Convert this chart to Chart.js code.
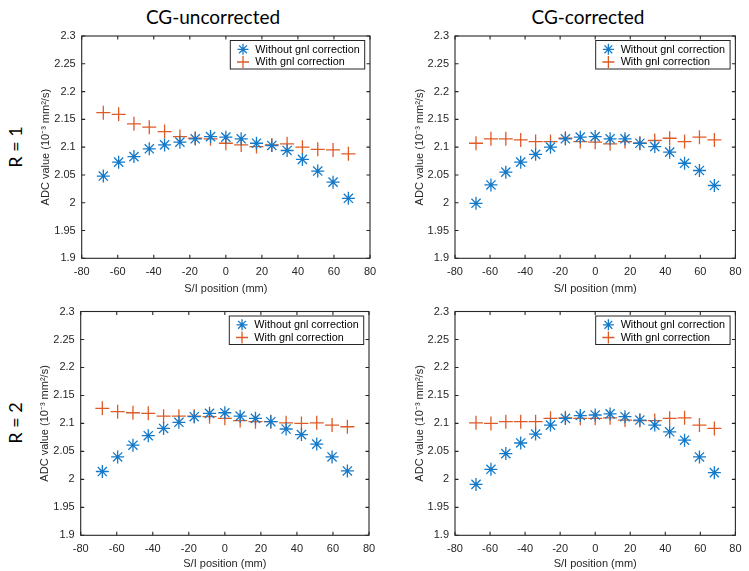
<!DOCTYPE html>
<html><head><meta charset="utf-8">
<script src="https://cdn.jsdelivr.net/npm/chart.js@4/dist/chart.umd.min.js"></script>
<style>
html,body{margin:0;padding:0;background:#fff;width:749px;height:571px;overflow:hidden;}
.cv{position:absolute;left:0;top:0;}
.ttl{position:absolute;font-family:Lato,'Open Sans',sans-serif;font-size:19px;color:#000;white-space:nowrap;transform:translate(-50%,-50%);}
.rl{position:absolute;font-family:Lato,'Open Sans',sans-serif;font-size:18px;color:#000;white-space:nowrap;transform:translate(-50%,-50%) rotate(-90deg);}
</style></head>
<body>
<div class="ttl" style="left:213px;top:16px">CG-uncorrected</div>
<div class="ttl" style="left:588px;top:16px">CG-corrected</div>
<div class="rl" style="left:15px;top:147px">R = 1</div>
<div class="rl" style="left:15px;top:423px">R = 2</div>
<canvas id="c0" class="cv" width="749" height="571"></canvas>
<canvas id="c1" class="cv" width="749" height="571"></canvas>
<canvas id="c2" class="cv" width="749" height="571"></canvas>
<canvas id="c3" class="cv" width="749" height="571"></canvas>
<script>
// ---- data ----
const positions = [-68, -59.5, -51, -42.5, -34, -25.5, -17, -8.5, 0, 8.5, 17, 25.5, 34, 42.5, 51, 59.5, 68];
const r1UncorrWithout = [2.048, 2.073, 2.083, 2.097, 2.104, 2.109, 2.115, 2.119, 2.118, 2.115, 2.107, 2.103, 2.094, 2.078, 2.057, 2.037, 2.008];
const r1UncorrWith    = [2.162, 2.159, 2.142, 2.136, 2.128, 2.119, 2.116, 2.115, 2.107, 2.104, 2.101, 2.104, 2.106, 2.100, 2.096, 2.095, 2.088];
const r1CorrWithout   = [1.999, 2.032, 2.055, 2.073, 2.087, 2.100, 2.115, 2.118, 2.119, 2.115, 2.115, 2.107, 2.101, 2.091, 2.071, 2.058, 2.031];
const r1CorrWith      = [2.107, 2.115, 2.115, 2.113, 2.110, 2.110, 2.116, 2.110, 2.109, 2.106, 2.110, 2.107, 2.112, 2.116, 2.110, 2.118, 2.113];
const r2UncorrWithout = [2.014, 2.040, 2.061, 2.078, 2.091, 2.102, 2.112, 2.118, 2.119, 2.113, 2.109, 2.103, 2.090, 2.080, 2.063, 2.040, 2.015];
const r2UncorrWith    = [2.127, 2.121, 2.119, 2.118, 2.113, 2.113, 2.113, 2.112, 2.109, 2.105, 2.103, 2.103, 2.101, 2.100, 2.101, 2.097, 2.094];
const r2CorrWithout   = [1.991, 2.018, 2.046, 2.065, 2.081, 2.097, 2.109, 2.114, 2.115, 2.117, 2.112, 2.106, 2.097, 2.085, 2.070, 2.040, 2.012];
const r2CorrWith      = [2.101, 2.100, 2.103, 2.103, 2.103, 2.109, 2.110, 2.109, 2.109, 2.110, 2.106, 2.105, 2.105, 2.109, 2.110, 2.097, 2.091];
const seriesNames = ['Without gnl correction', 'With gnl correction'];
const xTicks = [-80, -60, -40, -20, 0, 20, 40, 60, 80];
const xTickLabels = ['-80', '-60', '-40', '-20', '0', '20', '40', '60', '80'];
const yTicks = [1.9, 1.95, 2, 2.05, 2.1, 2.15, 2.2, 2.25, 2.3];
const yTickLabels = ['1.9', '1.95', '2', '2.05', '2.1', '2.15', '2.2', '2.25', '2.3'];
const xTitle = 'S/I position (mm)';
const yTitle = 'ADC value (10\u207B\u00B3 mm\u00B2/s)';

// ---- style ----
const BLUE = '#1479C8', ORANGE = '#DE5B26', AXIS = '#262626';
const FONT = 'Liberation Sans, Arial, sans-serif';
const W = 749, H = 571;
const panels = [
  {id:'c0', a:r1UncorrWithout, b:r1UncorrWith, L:81.7, R:370, T:36, B:258.3, XH:37},
  {id:'c1', a:r1CorrWithout,   b:r1CorrWith,   L:455,  R:743, T:36, B:258.3, XH:37},
  {id:'c2', a:r2UncorrWithout, b:r2UncorrWith, L:80.7, R:369, T:311.5, B:535.3, XH:35.7},
  {id:'c3', a:r2CorrWithout,   b:r2CorrWith,   L:455,  R:743, T:311.5, B:535.3, XH:35.7}
];
const YW = 47;

function starPath(ctx, x, y, r){
  ctx.beginPath();
  for (let k = 0; k < 4; k++){
    const an = k * Math.PI / 4;
    ctx.moveTo(x - Math.cos(an)*r, y - Math.sin(an)*r);
    ctx.lineTo(x + Math.cos(an)*r, y + Math.sin(an)*r);
  }
  ctx.stroke();
}
function crossPath(ctx, x, y, r){
  ctx.beginPath();
  ctx.moveTo(x - r, y); ctx.lineTo(x + r, y);
  ctx.moveTo(x, y - r); ctx.lineTo(x, y + r);
  ctx.stroke();
}

const framePlugin = {
  id: 'frame',
  afterDatasetsDraw(chart){
    const {ctx, chartArea: a, scales: {x, y}} = chart;
    ctx.save();
    ctx.strokeStyle = AXIS; ctx.lineWidth = 1.1;
    ctx.beginPath();
    xTicks.forEach(v => {
      const px = x.getPixelForValue(v);
      ctx.moveTo(px, a.bottom); ctx.lineTo(px, a.bottom - 3.5);
      ctx.moveTo(px, a.top); ctx.lineTo(px, a.top + 3.5);
    });
    yTicks.forEach(v => {
      const py = y.getPixelForValue(v);
      ctx.moveTo(a.left, py); ctx.lineTo(a.left + 3.5, py);
      ctx.moveTo(a.right, py); ctx.lineTo(a.right - 3.5, py);
    });
    ctx.stroke();
    ctx.strokeRect(a.left, a.top, a.right - a.left, a.bottom - a.top);
    // legend
    const bw = 134.4, bh = 28.5;
    const bx = a.right - 5.3 - bw, by = a.top + 4.5;
    ctx.fillStyle = '#fff';
    ctx.fillRect(bx, by, bw, bh);
    ctx.lineWidth = 1;
    ctx.strokeStyle = AXIS;
    ctx.strokeRect(bx, by, bw, bh);
    const rows = [by + 8.8, by + 21.5];
    ctx.lineWidth = 1.3;
    ctx.strokeStyle = BLUE; starPath(ctx, bx + 12.7, rows[0], 5.5);
    ctx.strokeStyle = ORANGE; crossPath(ctx, bx + 12.7, rows[1], 6);
    ctx.fillStyle = '#000';
    ctx.font = '10.8px ' + FONT;
    ctx.textBaseline = 'middle'; ctx.textAlign = 'left';
    ctx.fillText(chart.data.datasets[0].label, bx + 25, rows[0] + 0.5);
    ctx.fillText(chart.data.datasets[1].label, bx + 25, rows[1] + 0.5);
    ctx.restore();
  }
};

panels.forEach(p => {
  new Chart(document.getElementById(p.id), {
    type: 'scatter',
    data: {
      datasets: [
        {label: seriesNames[0], data: positions.map((v, i) => ({x: v, y: p.a[i]})),
         pointStyle: 'star', pointRadius: 6.5, pointHoverRadius: 6.5, borderColor: BLUE, backgroundColor: BLUE, pointBorderWidth: 1.3},
        {label: seriesNames[1], data: positions.map((v, i) => ({x: v, y: p.b[i]})),
         pointStyle: 'cross', pointRadius: 7, pointHoverRadius: 7, borderColor: ORANGE, backgroundColor: ORANGE, pointBorderWidth: 1.3}
      ]
    },
    options: {
      responsive: false, animation: false, events: [],
      layout: {padding: {left: p.L - YW, top: p.T, right: W - p.R, bottom: Math.max(0, H - p.B - p.XH)}},
      plugins: {legend: {display: false}, tooltip: {enabled: false}},
      scales: {
        x: {type: 'linear', min: -80, max: 80,
            afterBuildTicks: s => { s.ticks = xTicks.map(v => ({value: v})); },
            afterFit: s => { s.height = p.XH; },
            ticks: {callback: (v, i) => xTickLabels[i], font: {family: FONT, size: 11}, color: AXIS, padding: 7.5, maxRotation: 0, autoSkip: false},
            grid: {display: false, drawTicks: false}, border: {display: false},
            title: {display: true, text: xTitle, font: {family: FONT, size: 11}, color: AXIS, padding: {top: 2, bottom: 0}}},
        y: {type: 'linear', min: 1.9, max: 2.3,
            afterBuildTicks: s => { s.ticks = yTicks.map(v => ({value: v})); },
            afterFit: s => { s.width = YW; },
            ticks: {callback: (v, i) => yTickLabels[i], font: {family: FONT, size: 11}, color: AXIS, padding: 6, autoSkip: false},
            grid: {display: false, drawTicks: false}, border: {display: false},
            title: {display: true, text: yTitle, font: {family: FONT, size: 11}, color: AXIS, padding: {top: 5, bottom: 2}}}
      }
    },
    plugins: [framePlugin]
  });
});
</script>
</body></html>
